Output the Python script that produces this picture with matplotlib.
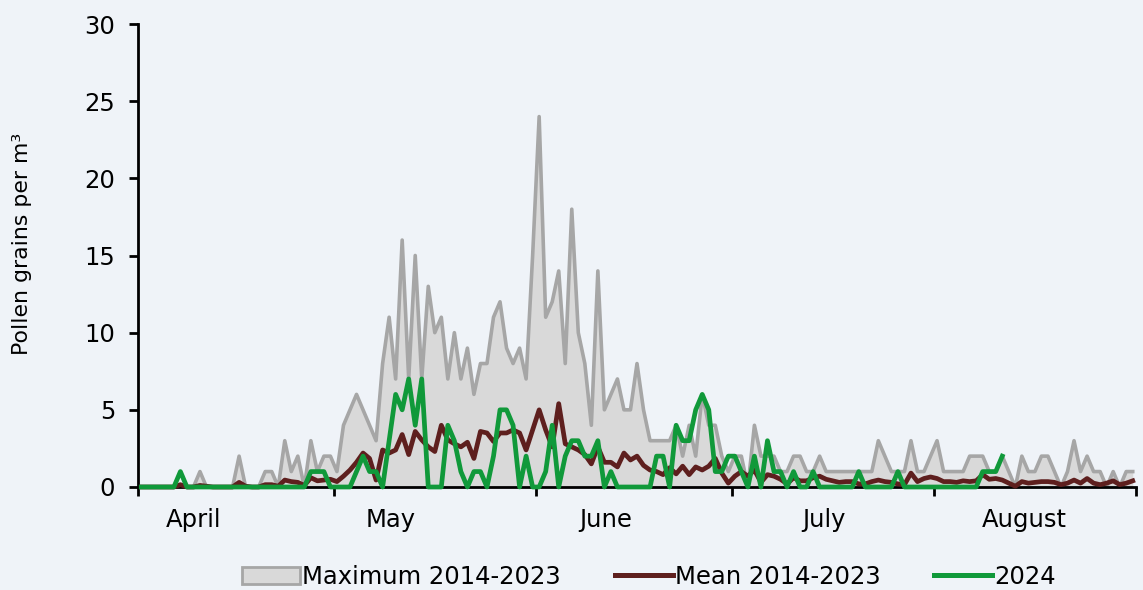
import numpy as np
import matplotlib
matplotlib.use("Agg")
import matplotlib.pyplot as plt
from matplotlib.patches import Patch
from matplotlib.lines import Line2D

# ---- data (daily values, 1 April - 31 August) ----
month_names = ["April", "May", "June", "July", "August"]
month_lengths = [30, 31, 30, 31, 31]

max_2014_2023 = [
    0, 0, 0, 0, 0, 0, 0, 0, 0, 1,
    0, 0, 0, 0, 0, 2, 0, 0, 0, 1,
    1, 0, 3, 1, 2, 0, 3, 1, 2, 2,
    1, 4, 5, 6, 5, 4, 3, 8, 11, 7,
    16, 7, 15, 7, 13, 10, 11, 7, 10, 7,
    9, 6, 8, 8, 11, 12, 9, 8, 9, 7,
    15, 24, 11, 12, 14, 8, 18, 10, 8, 4,
    14, 5, 6, 7, 5, 5, 8, 5, 3, 3,
    3, 3, 4, 2, 4, 2, 6, 4, 4, 2,
    1, 2, 2, 0, 4, 2, 2, 2, 1, 1,
    2, 2, 1, 1, 2, 1, 1, 1, 1, 1,
    1, 1, 1, 3, 2, 1, 1, 1, 3, 1,
    1, 2, 3, 1, 1, 1, 1, 2, 2, 2,
    1, 1, 2, 1, 0, 2, 1, 1, 2, 2,
    1, 0, 1, 3, 1, 2, 1, 1, 0, 1,
    0, 1, 1,
]

mean_2014_2023 = [
    0, 0, 0, 0, 0, 0, 0.15, 0, 0, 0.1,
    0.05, 0, 0, 0, 0, 0.3, 0.05, 0, 0, 0.15,
    0.15, 0.05, 0.45, 0.35, 0.3, 0.1, 0.6, 0.4, 0.45, 0.5,
    0.35, 0.7, 1.1, 1.6, 2.2, 1.85, 0.45, 2.4, 2.2, 2.4,
    3.4, 2.1, 3.6, 3.05, 2.6, 2.3, 4.0, 3.05, 2.8, 2.6,
    2.9, 1.85, 3.6, 3.5, 2.95, 3.5, 3.5, 3.7, 3.5, 2.4,
    3.7, 5.0, 3.7, 2.6, 5.4, 2.8, 2.6, 2.4, 2.1, 1.5,
    2.6, 1.6, 1.6, 1.3, 2.2, 1.75, 2.0, 1.4, 1.1, 1.0,
    0.8, 1.25, 0.85, 1.35, 0.8, 1.3, 1.1, 1.35, 1.85, 0.9,
    0.25, 0.7, 1.0, 0.7, 1.1, 0.3, 0.8, 0.7, 0.5, 0.2,
    0.6, 0.4, 0.4, 0.6, 0.7, 0.5, 0.4, 0.3, 0.35, 0.35,
    0.2, 0.2, 0.35, 0.45, 0.35, 0.3, 0.2, 0.15, 0.9, 0.35,
    0.55, 0.65, 0.55, 0.35, 0.35, 0.3, 0.4, 0.35, 0.4, 0.8,
    0.5, 0.55, 0.45, 0.25, 0.05, 0.35, 0.25, 0.3, 0.35, 0.35,
    0.3, 0.15, 0.25, 0.45, 0.25, 0.55, 0.25, 0.15, 0.25, 0.4,
    0.15, 0.25, 0.4,
]

season_2024 = [
    0, 0, 0, 0, 0, 0, 1, 0, 0, 0,
    0, 0, 0, 0, 0, 0, 0, 0, 0, 0,
    0, 0, 0, 0, 0, 0, 1, 1, 1, 0,
    0, 0, 0, 1, 2, 1, 1, 0, 3, 6,
    5, 7, 4, 7, 0, 0, 0, 4, 3, 1,
    0, 1, 1, 0, 2, 5, 5, 4, 0, 2,
    0, 0, 1, 4, 0, 2, 3, 3, 2, 2,
    3, 0, 1, 0, 0, 0, 0, 0, 0, 2,
    2, 0, 4, 3, 3, 5, 6, 5, 1, 1,
    2, 2, 1, 0, 2, 0, 3, 1, 1, 0,
    1, 0, 0, 1, 0, 0, 0, 0, 0, 0,
    1, 0, 0, 0, 0, 0, 1, 0, 0, 0,
    0, 0, 0, 0, 0, 0, 0, 0, 0, 1,
    1, 1, 2,
]

series_labels = ["Maximum 2014-2023", "Mean 2014-2023", "2024"]
y_ticks = [0, 5, 10, 15, 20, 25, 30]
# label anchor day within each month (labels are not centred in the month)
month_label_day = [8.5, 8.7, 10.7, 14.1, 13.9]

# ---- styling ----
BG = "#eff3f8"
FILL = "#d9d9d9"
GREY = "#a6a6a6"
BROWN = "#5e1f1e"
GREEN = "#10993a"

plt.rcParams["font.family"] = ["DejaVu Sans"]
FS = 17.5

fig = plt.figure(figsize=(11.43, 5.90), dpi=100, facecolor=BG)
ax = fig.add_axes([138 / 1143, 103 / 590, 998 / 1143, 463 / 590], facecolor=BG)

n_days = sum(month_lengths)
x_max = np.arange(len(max_2014_2023)) + 0.5
x_mean = np.arange(len(mean_2014_2023)) + 0.5
x_24 = np.arange(len(season_2024)) + 0.5

ax.fill_between(x_max, 0, max_2014_2023, color=FILL, lw=0, zorder=1)
ax.plot(x_max, max_2014_2023, color=GREY, lw=2.6, zorder=2)
ax.plot(x_mean, mean_2014_2023, color=BROWN, lw=3.4, zorder=4, clip_on=False)
ax.plot(x_24, season_2024, color=GREEN, lw=3.4, zorder=5, clip_on=False)

ax.set_xlim(0, n_days)
ax.set_ylim(0, 30)

month_starts = np.concatenate([[0], np.cumsum(month_lengths)])
ax.set_xticks(month_starts)
ax.set_xticklabels([])
ax.set_xticks(month_starts[:-1] + np.array(month_label_day), minor=True)
ax.set_xticklabels(month_names, minor=True, fontsize=FS)
ax.tick_params(axis="x", which="minor", length=0, pad=15)
ax.tick_params(axis="x", which="major", length=6.5, width=2, direction="out", color="black")

ax.set_yticks(y_ticks)
ax.set_yticklabels([str(v) for v in y_ticks], fontsize=FS)
ax.tick_params(axis="y", length=6.5, width=2, direction="out", pad=10, color="black")

for s in ["top", "right"]:
    ax.spines[s].set_visible(False)
for s in ["left", "bottom"]:
    ax.spines[s].set_linewidth(2.0)
    ax.spines[s].set_color("black")
    ax.spines[s].set_zorder(3)

fig.text(22 / 1143, (590 - 244) / 590, "Pollen grains per m³", rotation=90,
         ha="center", va="center", fontsize=15.8)

handles = [
    Patch(facecolor=FILL, edgecolor=GREY, lw=2),
    Line2D([], [], color=BROWN, lw=3.6),
    Line2D([], [], color=GREEN, lw=3.6),
]
fig.legend(handles, series_labels, loc="center", bbox_to_anchor=(649 / 1143, 13 / 590),
           ncol=3, frameon=False, fontsize=FS, handlelength=2.4, handletextpad=0.08,
           columnspacing=2.2, borderpad=0, borderaxespad=0)

fig.savefig("out.png", dpi=100, facecolor=BG)
